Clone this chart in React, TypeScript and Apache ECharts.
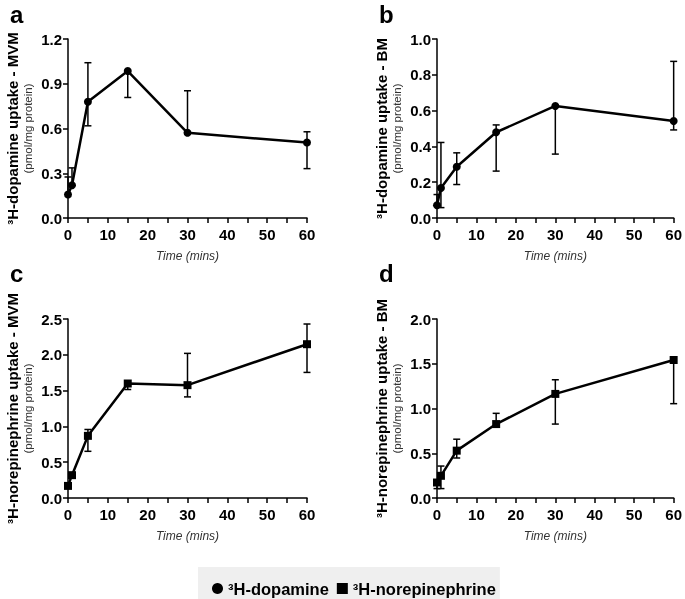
import React, { useEffect, useRef } from "react";
import * as echarts from "echarts";

const times = [0, 1, 5, 15, 30, 60];
const xTicks = [0, 10, 20, 30, 40, 50, 60];

// Panel a: 3H-dopamine, MVM
const daMVM = [0.157, 0.219, 0.779, 0.985, 0.571, 0.506];
const daMVMLow = [0.157, 0.219, 0.618, 0.808, 0.571, 0.331];
const daMVMHigh = [0.275, 0.336, 1.041, 0.985, 0.853, 0.578];

// Panel b: 3H-dopamine, BM
const daBM = [0.071, 0.168, 0.286, 0.479, 0.626, 0.542];
const daBMLow = [0.071, 0.058, 0.187, 0.262, 0.357, 0.492];
const daBMHigh = [0.131, 0.422, 0.364, 0.52, 0.626, 0.875];

// Panel c: 3H-norepinephrine, MVM
const neMVM = [0.169, 0.319, 0.868, 1.599, 1.576, 2.148];
const neMVMLow = [0.169, 0.319, 0.652, 1.515, 1.412, 1.754];
const neMVMHigh = [0.169, 0.319, 0.957, 1.599, 2.02, 2.43];

// Panel d: 3H-norepinephrine, BM
const neBM = [0.173, 0.248, 0.529, 0.826, 1.163, 1.542];
const neBMLow = [0.105, 0.105, 0.447, 0.826, 0.826, 1.054];
const neBMHigh = [0.173, 0.357, 0.657, 0.946, 1.321, 1.542];

const panelLetters = ["a", "b", "c", "d"];
const yTitles = [
  "³H-dopamine uptake - MVM",
  "³H-dopamine uptake - BM",
  "³H-norepinephrine uptake - MVM",
  "³H-norepinephrine uptake - BM",
];
const yUnit = "(pmol/mg protein)";
const xTitle = "Time (mins)";
const yMax = [1.2, 1.0, 2.5, 2.0];
const yInterval = [0.3, 0.2, 0.5, 0.5];
const seriesNames = ["³H-dopamine", "³H-norepinephrine"];

const FONT = "'Liberation Sans', Arial, Helvetica, sans-serif";

export default function App() {
  const ref = useRef<HTMLDivElement>(null);
  useEffect(() => {
    if (!ref.current) return;
    const chart = echarts.init(ref.current, undefined, { renderer: "svg" });

    const grids = [
      { left: 68, top: 39, width: 239, height: 179 },
      { left: 437, top: 39, width: 240, height: 179 },
      { left: 68, top: 319, width: 239, height: 179 },
      { left: 437, top: 319, width: 240, height: 179 },
    ];
    const vals = [daMVM, daBM, neMVM, neBM];
    const lows = [daMVMLow, daBMLow, neMVMLow, neBMLow];
    const highs = [daMVMHigh, daBMHigh, neMVMHigh, neBMHigh];

    const xAxes = grids.map((_, i) => ({
      type: "value",
      gridIndex: i,
      min: 0,
      max: 60,
      interval: 10,
      name: xTitle,
      nameLocation: "middle",
      nameGap: 32,
      nameTextStyle: { fontStyle: "italic", fontSize: 12, color: "#333", fontFamily: FONT },
      axisLine: { show: true, onZero: false, lineStyle: { color: "#000", width: 1.5 } },
      axisTick: { show: true, length: 5, lineStyle: { color: "#000", width: 1.5 } },
      minorTick: { show: true, splitNumber: 2, length: 5, lineStyle: { color: "#000", width: 1.5 } },
      axisLabel: {
        margin: 9,
        fontSize: 15,
        fontWeight: "bold",
        color: "#000",
        fontFamily: FONT,
        customValues: xTicks,
      },
      splitLine: { show: false },
    }));

    const yAxes = grids.map((_, i) => ({
      type: "value",
      gridIndex: i,
      min: 0,
      max: yMax[i],
      interval: yInterval[i],
      name: "{b|" + yTitles[i] + "}\n{r|" + yUnit + "}",
      nameLocation: "middle",
      nameGap: 33,
      nameTextStyle: {
        fontFamily: FONT,
        rich: {
          b: { fontSize: 15, fontWeight: "bold", color: "#000", lineHeight: 17, fontFamily: FONT },
          r: { fontSize: 11.5, color: "#333", lineHeight: 14, fontFamily: FONT },
        },
      },
      axisLine: { show: true, onZero: false, lineStyle: { color: "#000", width: 1.5 } },
      axisTick: { show: true, length: 5, lineStyle: { color: "#000", width: 1.5 } },
      axisLabel: {
        margin: 6,
        fontSize: 15,
        fontWeight: "bold",
        color: "#000",
        fontFamily: FONT,
        formatter: (v: number) => v.toFixed(1),
      },
      splitLine: { show: false },
    }));

    const series: any[] = [];
    grids.forEach((_, i) => {
      const isNE = i >= 2;
      series.push({
        type: "custom",
        name: "err" + i,
        xAxisIndex: i,
        yAxisIndex: i,
        clip: false,
        silent: true,
        data: times.map((t, k) => [t, vals[i][k], lows[i][k], highs[i][k]]),
        encode: { x: 0, y: [2, 3] },
        renderItem: (params: any, api: any) => {
          const t = api.value(0);
          const v = api.value(1);
          const lo = api.value(2);
          const hi = api.value(3);
          const pLo = api.coord([t, lo]);
          const pHi = api.coord([t, hi]);
          const hw = 3.5;
          const style = { stroke: "#000", lineWidth: 1.5 };
          const children: any[] = [
            { type: "line", shape: { x1: pLo[0], y1: pLo[1], x2: pHi[0], y2: pHi[1] }, style },
          ];
          if (lo < v) children.push({ type: "line", shape: { x1: pLo[0] - hw, y1: pLo[1], x2: pLo[0] + hw, y2: pLo[1] }, style });
          if (hi > v) children.push({ type: "line", shape: { x1: pHi[0] - hw, y1: pHi[1], x2: pHi[0] + hw, y2: pHi[1] }, style });
          return { type: "group", children };
        },
      });
      series.push({
        type: "line",
        name: isNE ? seriesNames[1] : seriesNames[0],
        xAxisIndex: i,
        yAxisIndex: i,
        clip: false,
        data: times.map((t, k) => [t, vals[i][k]]),
        symbol: isNE ? "rect" : "circle",
        symbolSize: 8,
        lineStyle: { color: "#000", width: 2.5 },
        itemStyle: { color: "#000" },
        z: 3,
      });
    });

    const letterPos = [
      [10, 14],
      [379, 14],
      [10, 273],
      [379, 273],
    ];

    chart.setOption({
      animation: false,
      textStyle: { fontFamily: FONT },
      grid: grids,
      xAxis: xAxes,
      yAxis: yAxes,
      series,
      legend: {
        data: [
          { name: seriesNames[0], icon: "circle" },
          { name: seriesNames[1], icon: "rect" },
        ],
        left: 198,
        top: 567,
        orient: "horizontal",
        backgroundColor: "#efefef",
        padding: [13, 4, 10, 14],
        itemGap: 8,
        itemWidth: 11,
        itemHeight: 11,
        textStyle: { fontSize: 16.5, fontWeight: "bold", color: "#000", fontFamily: FONT },
        selectedMode: false,
      },
      graphic: panelLetters.map((l, i) => ({
        type: "text",
        left: letterPos[i][0],
        top: letterPos[i][1] - 12,
        style: { text: l, fontSize: 24, fontWeight: "bold", fill: "#000", fontFamily: FONT },
      })),
    });

    return () => chart.dispose();
  }, []);
  return <div ref={ref} style={{ position: "fixed", left: 0, top: 0, width: 685, height: 599 }} />;
}
